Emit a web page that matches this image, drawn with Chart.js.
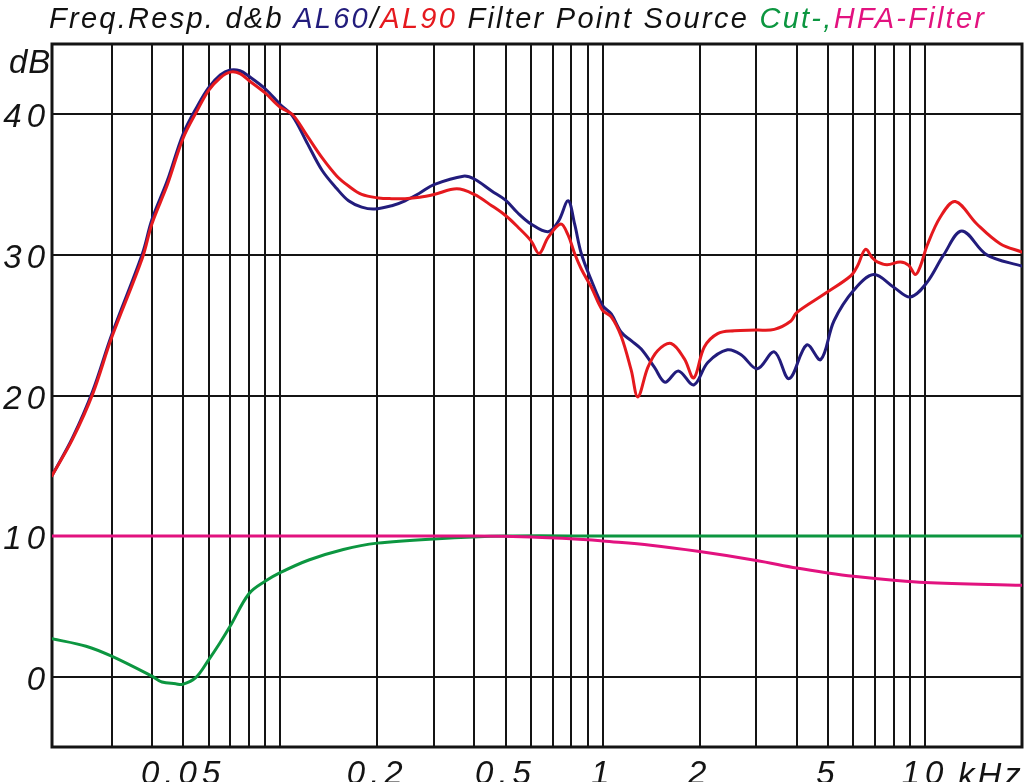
<!DOCTYPE html>
<html><head><meta charset="utf-8">
<script src="https://cdn.jsdelivr.net/npm/chart.js@4.4.1/dist/chart.umd.min.js"></script>
<style>
html,body{margin:0;padding:0;background:#fff;}
#wrap{position:relative;width:1024px;height:782px;overflow:hidden;background:#fff;}
#title{position:absolute;left:49px;top:4px;font-style:italic;font-size:29px;font-family:"Liberation Sans",Arial,sans-serif;line-height:29px;white-space:nowrap;color:#111;}
canvas{position:absolute;left:0;top:0;}
</style></head><body>
<div id="wrap">
<canvas id="c" width="1024" height="782"></canvas>
<div id="title"><span>Freq.Resp. d&amp;b </span><span style="color:#221c7c">AL60</span><span>/</span><span style="color:#e5191e">AL90</span><span> Filter Point Source </span><span style="color:#0c9640">Cut-,</span><span style="color:#e2127f">HFA-Filter</span></div>
</div>
<script>
// ---- data (frequency in kHz, level in dB) ----
const freqAL90 = [0.0196,0.0227,0.0262,0.03,0.0374,0.04,0.0447,0.05,0.0554,0.06,0.0652,0.07,0.075,0.08,0.09,0.1,0.109,0.121,0.135,0.15,0.163,0.179,0.202,0.222,0.244,0.271,0.3,0.353,0.4,0.453,0.5,0.545,0.6,0.636,0.678,0.742,0.782,0.819,0.859,0.923,1.0,1.064,1.143,1.227,1.287,1.382,1.484,1.632,1.794,1.918,2.068,2.275,2.56,3.0,3.41,3.84,4.0,4.86,5.88,6.17,6.54,6.86,7.11,7.63,8.39,8.91,9.34,9.68,10.15,11.16,12.42,14.49,17.11,20];
const dbAL90 = [14.3,16.9,20.1,24.1,29.8,32.2,35.0,38.3,40.3,41.7,42.6,43.0,42.9,42.4,41.5,40.5,40.0,38.5,36.9,35.6,34.9,34.3,34.05,34.0,34.0,34.1,34.3,34.7,34.3,33.5,32.8,32.0,31.0,30.1,31.25,32.2,31.4,30.1,29.0,27.7,26.05,25.6,24.2,21.8,19.9,22.0,23.2,23.7,22.6,21.25,23.45,24.4,24.6,24.65,24.7,25.3,25.9,27.2,28.5,29.2,30.4,29.8,29.5,29.3,29.5,29.25,28.6,29.2,30.65,32.7,33.8,32.2,30.8,30.2];

const freqAL60 = [0.0196,0.0227,0.0262,0.03,0.0374,0.04,0.0447,0.05,0.0554,0.06,0.0652,0.07,0.075,0.08,0.09,0.1,0.109,0.121,0.135,0.15,0.163,0.179,0.196,0.222,0.244,0.271,0.3,0.37,0.4,0.453,0.5,0.545,0.6,0.678,0.73,0.782,0.819,0.859,0.923,1.0,1.064,1.143,1.227,1.318,1.449,1.563,1.719,1.918,2.12,2.44,2.69,3.02,3.41,3.79,4.3,4.75,5.22,6.02,6.94,8.0,9.01,10.15,11.43,13.02,15.56,20];
const dbAL60 = [14.3,17.0,20.3,24.3,30.1,32.5,35.3,38.6,40.6,41.9,42.8,43.15,43.1,42.7,41.8,40.7,39.9,38.0,36.0,34.7,33.85,33.4,33.26,33.5,33.85,34.4,35.0,35.6,35.4,34.55,33.9,33.0,32.2,31.65,32.4,33.85,32.2,30.1,28.2,26.4,25.8,24.5,23.9,23.3,22.0,20.95,21.75,20.75,22.35,23.25,22.9,21.9,23.1,21.2,23.6,22.55,25.3,27.5,28.6,27.7,27.0,28.05,30.0,31.7,30.0,29.2];

const freqCut = [0.0196,0.025,0.03,0.04,0.043,0.0474,0.0498,0.0547,0.06,0.065,0.07,0.08,0.09,0.1,0.1227,0.157,0.2,0.3,0.5,1,2,5,10,20];
const dbCut = [2.7,2.17,1.46,0.04,-0.38,-0.5,-0.55,-0.07,1.2,2.4,3.6,5.9,6.8,7.4,8.3,9.05,9.5,9.8,10,10,10,10,10,10];

const freqHFA = [0.0196,0.1,0.4,0.6,0.9,1,1.41,2,3,4,5,6,8,10,20];
const dbHFA = [10,10,10,9.93,9.74,9.65,9.35,8.9,8.27,7.73,7.38,7.14,6.86,6.7,6.5];

// ---- axes ----
const xMin = 0.0196, xMax = 20;
const xGridValues = [0.03,0.04,0.05,0.06,0.07,0.08,0.09,0.1,0.2,0.3,0.4,0.5,0.6,0.7,0.8,0.9,1,2,3,4,5,6,7,8,9,10];
const xLabelValues = [0.05,0.2,0.5,1,2,5,10];
const xLabelTexts = ['0.05','0.2','0.5','1','2','5','10'];
const yTickValues = [0,10,20,30,40];
const yTickTexts = ['0','10','20','30','40'];
const xUnit = 'kHz';
const yUnit = 'dB';

// title letter spacing to fit width
(function(){
  const t = document.getElementById('title');
  const w = t.getBoundingClientRect().width;
  const n = t.textContent.length;
  t.style.letterSpacing = ((937 - w) / n).toFixed(2) + 'px';
})();

const FONT = '"Liberation Sans", Arial, sans-serif';
const LS = '5px';
const ink = '#141414';

const pts = (f, d) => f.map((v, i) => ({x: v, y: d[i]}));

const framePlugin = {
  id: 'frame',
  beforeLayout(chart){ chart.ctx.letterSpacing = LS; },
  beforeDraw(chart){ chart.ctx.letterSpacing = LS; },
  beforeDatasetsDraw(chart){
    const {ctx, chartArea: a} = chart;
    ctx.save();
    ctx.strokeStyle = ink; ctx.lineWidth = 3;
    ctx.strokeRect(a.left, a.top, a.right - a.left, a.bottom - a.top);
    ctx.restore();
  },
  afterDraw(chart){
    const {ctx} = chart;
    ctx.save();
    ctx.font = 'italic 33px ' + FONT;
    ctx.fillStyle = ink;
    ctx.textBaseline = 'alphabetic';
    ctx.textAlign = 'left';
    ctx.letterSpacing = '1px';
    ctx.fillText(yUnit, 9, 73);
    ctx.letterSpacing = '3px';
    const x10 = chart.scales.x.getPixelForValue(10);
    ctx.fillText(xUnit, x10 + 33, 786);
    ctx.restore();
  }
};

new Chart(document.getElementById('c'), {
  type: 'line',
  data: {
    datasets: [
      {data: pts(freqAL90, dbAL90), borderColor: '#e5191e'},
      {data: pts(freqAL60, dbAL60), borderColor: '#221c7c'},
      {data: pts(freqHFA, dbHFA), borderColor: '#e2127f'},
      {data: pts(freqCut, dbCut), borderColor: '#0c9640'}
    ].map(d => Object.assign(d, {borderWidth: 3, pointRadius: 0, fill: false, tension: 0.35, borderJoinStyle: 'round', borderCapStyle: 'round'}))
  },
  options: {
    responsive: false,
    devicePixelRatio: 1,
    animation: false,
    events: [],
    layout: {padding: {left: 0, top: 44, right: 2, bottom: 0}},
    plugins: {legend: {display: false}, tooltip: {enabled: false}, title: {display: false}},
    scales: {
      x: {
        type: 'logarithmic', min: xMin, max: xMax,
        afterBuildTicks: s => { s.ticks = [xMin].concat(xGridValues, [xMax]).map(v => ({value: v})); },
        afterFit: s => { s.height = 35; s.paddingLeft = 0; s.paddingRight = 0; },
        grid: {color: ink, lineWidth: 2, drawTicks: false},
        border: {display: false},
        ticks: {
          autoSkip: false, maxRotation: 0, minRotation: 0, padding: 8,
          color: ink, font: {family: FONT, size: 33, style: 'italic'},
          callback: v => { const i = xLabelValues.findIndex(x => Math.abs(x - v) < 1e-9); return i >= 0 ? xLabelTexts[i] : ''; }
        }
      },
      y: {
        type: 'linear', min: -5, max: 45,
        afterBuildTicks: s => { s.ticks = yTickValues.map(v => ({value: v})); },
        afterFit: s => { s.width = 52; s.paddingTop = 0; s.paddingBottom = 0; },
        grid: {color: ink, lineWidth: 2, drawTicks: false},
        border: {display: false},
        ticks: {
          padding: 2, labelOffset: 4,
          color: ink, font: {family: FONT, size: 33, style: 'italic'},
          callback: v => { const i = yTickValues.indexOf(v); return i >= 0 ? yTickTexts[i] : ''; }
        }
      }
    }
  },
  plugins: [framePlugin]
});
</script>
</body></html>
